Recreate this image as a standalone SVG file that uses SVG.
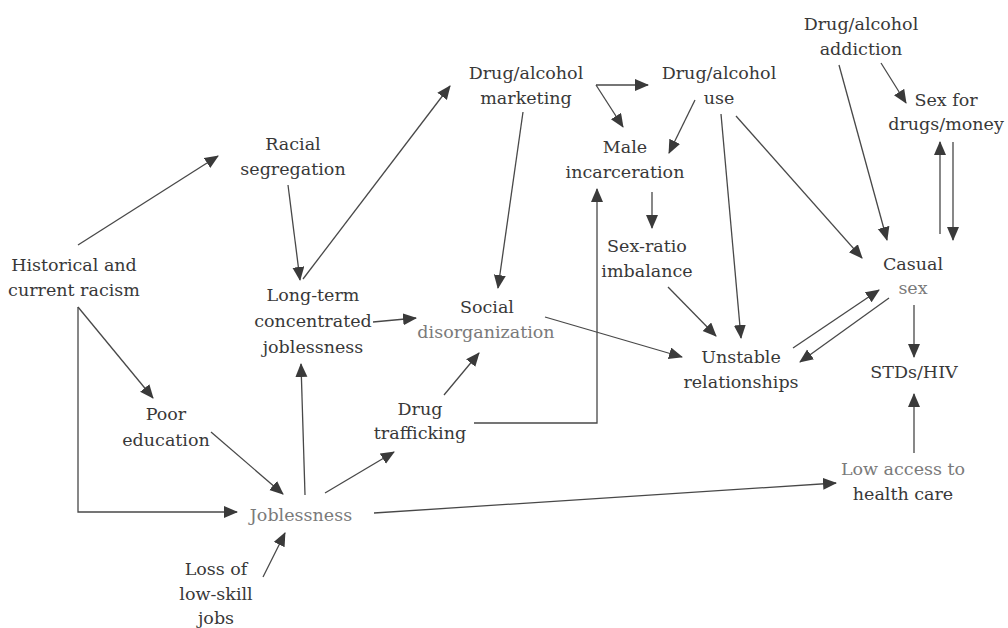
<svg xmlns="http://www.w3.org/2000/svg" width="1008" height="628" viewBox="0 0 1008 628">
<style>
text{font-family:"DejaVu Serif","Liberation Serif",serif;font-size:17.5px;fill:#383838;text-anchor:middle}
.g{fill:#7a7a7a}
.c line,.c polyline{stroke:#484848;stroke-width:1.3;fill:none;marker-end:url(#ah)}
</style>
<defs>
<marker id="ah" markerUnits="userSpaceOnUse" markerWidth="16" markerHeight="14" refX="13" refY="6" orient="auto">
<path d="M0,0 L14,6 L0,12 z" fill="#3a3a3a"/>
</marker>
</defs>
<rect width="1008" height="628" fill="#fff"/>
<g class="c" id="connectors">
<line x1="78" y1="245" x2="218" y2="156"/>
<line x1="78" y1="307" x2="153" y2="398"/>
<polyline points="78,307 78,512 237,512"/>
<line x1="211" y1="432" x2="283" y2="494"/>
<line x1="263" y1="577" x2="285" y2="533"/>
<line x1="305" y1="495" x2="301" y2="364"/>
<line x1="325" y1="493" x2="394" y2="452"/>
<line x1="374" y1="513" x2="836" y2="483"/>
<line x1="288" y1="185" x2="300" y2="280"/>
<line x1="303" y1="279" x2="450" y2="86"/>
<line x1="373" y1="322" x2="416" y2="318"/>
<line x1="444" y1="395" x2="479" y2="353"/>
<polyline points="474,423 597,423 597,189"/>
<line x1="523" y1="112" x2="498" y2="288"/>
<line x1="596" y1="85" x2="648" y2="85"/>
<line x1="596" y1="85" x2="623" y2="127"/>
<line x1="695" y1="100" x2="669" y2="153"/>
<line x1="721" y1="114" x2="741" y2="338"/>
<line x1="736" y1="116" x2="862" y2="258"/>
<line x1="839" y1="65" x2="887" y2="240"/>
<line x1="881" y1="63" x2="906" y2="103"/>
<line x1="940" y1="234" x2="940" y2="142"/>
<line x1="953" y1="142" x2="953" y2="240"/>
<line x1="668" y1="287" x2="716" y2="336"/>
<line x1="652" y1="192" x2="652" y2="228"/>
<line x1="545" y1="317" x2="682" y2="357"/>
<line x1="793" y1="348" x2="879" y2="290"/>
<line x1="889" y1="298" x2="800" y2="362"/>
<line x1="914" y1="305" x2="914" y2="357"/>
<line x1="914" y1="453" x2="914" y2="394"/>
</g>
<g id="historical"><text x="74" y="271">Historical and</text><text x="74" y="296">current racism</text></g>
<g id="racial"><text x="293" y="150">Racial</text><text x="293" y="175">segregation</text></g>
<g id="longterm"><text x="313" y="301">Long-term</text><text x="313" y="327">concentrated</text><text x="313" y="353">joblessness</text></g>
<g id="poor"><text x="166" y="420">Poor</text><text x="166" y="446">education</text></g>
<g id="joblessness"><text class="g" x="301" y="521">Joblessness</text></g>
<g id="loss"><text x="216" y="575">Loss of</text><text x="216" y="600">low-skill</text><text x="216" y="624">jobs</text></g>
<g id="trafficking"><text x="420" y="415">Drug</text><text x="420" y="439">trafficking</text></g>
<g id="social"><text x="487" y="313">Social</text><text class="g" x="486" y="338">disorganization</text></g>
<g id="marketing"><text x="526" y="79">Drug/alcohol</text><text x="526" y="104">marketing</text></g>
<g id="use"><text x="719" y="79">Drug/alcohol</text><text x="719" y="104">use</text></g>
<g id="male"><text x="625" y="153">Male</text><text x="625" y="178">incarceration</text></g>
<g id="sexratio"><text x="647" y="252">Sex-ratio</text><text x="647" y="277">imbalance</text></g>
<g id="addiction"><text x="861" y="30">Drug/alcohol</text><text x="861" y="55">addiction</text></g>
<g id="sexfor"><text x="946" y="106">Sex for</text><text x="946" y="130">drugs/money</text></g>
<g id="casual"><text x="913" y="270">Casual</text><text class="g" x="913" y="294">sex</text></g>
<g id="unstable"><text x="741" y="363">Unstable</text><text x="741" y="388">relationships</text></g>
<g id="stds"><text x="914" y="378">STDs/HIV</text></g>
<g id="lowaccess"><text class="g" x="903" y="475">Low access to</text><text x="903" y="500">health care</text></g>
</svg>
